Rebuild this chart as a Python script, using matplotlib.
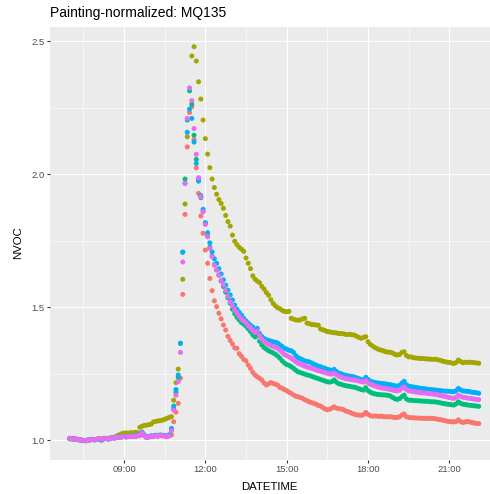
import numpy as np
import pandas as pd
import matplotlib
matplotlib.use('Agg')
import matplotlib.pyplot as plt
import matplotlib.dates as mdates

plt.rcParams['font.family'] = ['Liberation Sans', 'DejaVu Sans']

nan = np.nan

# sensor readings every 5 minutes, 07:00 -> 22:05 (one row per hour)
red = [
    1.006, 1.005, 1.004, 1.003, 1.002, 1.000, 0.998, 0.997, 0.999, 1.001, 1.002, 1.001,
    1.003, 1.004, 1.002, 1.005, 1.006, 1.004, 1.007, 1.009, 1.008, 1.011, 1.010, 1.012,
    1.013, 1.012, 1.014, 1.013, 1.015, 1.014, 1.016, 1.018, 1.024, 1.017, 1.010, 1.012,
    1.015, 1.014, 1.017, 1.015, 1.018, 1.017, 1.016, 1.014, 1.016, 1.019, 1.069, 1.105,
    1.138, 1.233, 1.548, 1.849, 2.103, 2.232, 2.254, 2.131, 2.024, 1.928, 1.843, 1.778,
    1.715, 1.665, 1.608, 1.562, 1.524, 1.502, 1.477, 1.456, 1.433, 1.414, 1.390, 1.375,
    1.362, 1.347, 1.345, 1.325, 1.315, 1.303, 1.298, 1.282, 1.270, 1.255, 1.245, 1.238,
    1.232, 1.226, 1.215, 1.207, 1.212, 1.216, 1.213, 1.210, 1.207, 1.198, 1.195, 1.190,
    1.186, 1.180, 1.176, 1.170, 1.165, 1.163, 1.160, 1.157, 1.152, 1.148, 1.144, 1.141,
    1.138, 1.135, 1.130, 1.128, 1.122, 1.117, 1.114, 1.116, 1.120, 1.125, 1.120, 1.118,
    1.117, 1.115, 1.110, 1.107, 1.104, 1.100, 1.097, 1.095, 1.094, 1.093, 1.096, 1.104,
    1.097, 1.092, 1.090, 1.091, 1.090, 1.089, 1.090, 1.088, 1.088, 1.087, 1.088, 1.086,
    1.085, 1.085, 1.088, 1.094, 1.098, 1.088, 1.085, 1.084, 1.084, 1.083, 1.083, 1.082,
    1.082, 1.081, 1.082, 1.081, 1.082, 1.081, 1.080, 1.078, 1.077, 1.075, 1.073, 1.071,
    1.070, 1.069, 1.068, 1.070, 1.076, 1.070, 1.066, 1.068, 1.070, 1.068, 1.066, 1.064,
    1.063, 1.062,
]
olive = [
    1.005, 1.005, 1.004, 1.003, 1.001, 1.000, 0.999, 0.998, 1.000, 1.001, 1.003, 1.002,
    1.003, 1.005, 1.004, 1.006, 1.007, 1.006, 1.008, 1.010, 1.012, 1.016, 1.020, 1.024,
    1.026, 1.027, 1.026, 1.028, 1.027, 1.029, 1.028, 1.048, 1.052, 1.055, 1.056, 1.058,
    1.060, 1.068, 1.070, 1.072, 1.073, 1.075, 1.078, 1.082, 1.085, 1.088, 1.150, 1.216,
    1.267, nan, 1.605, 1.888, 2.141, nan, 2.445, 2.480, 2.426, 2.348, 2.283, 2.204,
    2.134, 2.076, 2.025, 1.982, 1.950, 1.925, 1.905, 1.890, 1.872, 1.845, 1.822, 1.805,
    1.771, 1.748, 1.735, 1.725, 1.718, 1.710, 1.685, 1.665, 1.645, 1.618, 1.605, 1.598,
    1.592, 1.578, 1.568, 1.555, 1.545, 1.528, 1.514, 1.505, 1.498, 1.494, 1.488, 1.484,
    1.483, 1.484, 1.458, 1.455, 1.452, 1.451, 1.452, 1.456, 1.458, 1.440, 1.438, 1.435,
    1.434, 1.433, 1.432, 1.418, 1.415, 1.412, 1.408, 1.407, 1.405, 1.404, 1.403, 1.401,
    1.401, 1.400, 1.398, 1.397, 1.398, 1.396, 1.395, 1.390, 1.386, 1.383, 1.386, 1.389,
    1.370, 1.360, 1.354, 1.348, 1.344, 1.340, 1.338, 1.335, 1.332, 1.331, 1.330, 1.327,
    1.322, 1.320, 1.322, 1.330, 1.332, 1.318, 1.313, 1.313, 1.310, 1.309, 1.308, 1.307,
    1.307, 1.306, 1.305, 1.305, 1.304, 1.304, 1.304, 1.302, 1.300, 1.297, 1.295, 1.293,
    1.292, 1.290, 1.288, 1.292, 1.301, 1.296, 1.291, 1.293, 1.292, 1.293, 1.292, 1.291,
    1.290, 1.289,
]
green = [
    1.006, 1.004, 1.004, 1.003, 1.001, 1.000, 0.998, 0.998, 1.000, 1.001, 1.002, 1.001,
    1.003, 1.004, 1.002, 1.005, 1.006, 1.004, 1.007, 1.009, 1.008, 1.011, 1.011, 1.012,
    1.013, 1.012, 1.015, 1.013, 1.015, 1.014, 1.017, 1.019, 1.027, 1.017, 1.010, 1.012,
    1.015, 1.014, 1.017, 1.015, 1.018, 1.017, 1.016, 1.014, 1.017, 1.040, 1.120, 1.180,
    1.235, 1.364, 1.707, 1.982, 2.204, 2.314, 2.264, 2.147, 2.056, 1.980, 1.912, 1.860,
    1.815, 1.768, 1.725, 1.692, 1.660, 1.640, 1.620, 1.598, 1.578, 1.556, 1.535, 1.515,
    1.492, 1.475, 1.462, 1.452, 1.442, 1.436, 1.428, 1.418, 1.408, 1.396, 1.388, 1.392,
    1.372, 1.358, 1.348, 1.342, 1.336, 1.332, 1.328, 1.323, 1.316, 1.308, 1.298, 1.290,
    1.284, 1.281, 1.276, 1.270, 1.263, 1.257, 1.254, 1.251, 1.248, 1.245, 1.243, 1.240,
    1.237, 1.234, 1.231, 1.228, 1.225, 1.222, 1.219, 1.218, 1.220, 1.226, 1.218, 1.212,
    1.210, 1.207, 1.205, 1.203, 1.202, 1.200, 1.199, 1.196, 1.193, 1.190, 1.188, 1.197,
    1.186, 1.180, 1.176, 1.174, 1.172, 1.171, 1.170, 1.170, 1.169, 1.168, 1.165, 1.160,
    1.155, 1.153, 1.156, 1.163, 1.169, 1.155, 1.150, 1.150, 1.149, 1.148, 1.148, 1.147,
    1.147, 1.146, 1.146, 1.145, 1.144, 1.144, 1.143, 1.142, 1.140, 1.138, 1.137, 1.135,
    1.134, 1.133, 1.132, 1.136, 1.144, 1.138, 1.135, 1.134, 1.132, 1.131, 1.130, 1.129,
    1.128, 1.127,
]
blue = [
    1.006, 1.005, 1.004, 1.002, 1.001, 1.000, 0.998, 0.998, 1.000, 1.001, 1.003, 1.001,
    1.002, 1.004, 0.999, 1.004, 1.006, 1.005, 1.007, 1.008, 1.009, 1.012, 1.011, 1.013,
    1.014, 1.013, 1.015, 1.014, 1.016, 1.015, 1.018, 1.021, 1.030, 1.019, 1.011, 1.013,
    1.016, 1.015, 1.018, 1.016, 1.019, 1.018, 1.017, 1.015, 1.020, 1.044, 1.128, 1.190,
    1.245, 1.364, 1.707, 1.966, 2.158, 2.245, 2.210, 2.121, 2.041, 1.974, 1.920, 1.868,
    1.818, 1.780, 1.742, 1.708, 1.682, 1.665, 1.645, 1.625, 1.603, 1.583, 1.564, 1.546,
    1.527, 1.508, 1.492, 1.480, 1.470, 1.458, 1.448, 1.440, 1.432, 1.425, 1.414, 1.420,
    1.401, 1.390, 1.382, 1.378, 1.375, 1.372, 1.370, 1.368, 1.365, 1.358, 1.352, 1.345,
    1.342, 1.338, 1.336, 1.330, 1.318, 1.310, 1.306, 1.302, 1.298, 1.296, 1.294, 1.290,
    1.286, 1.282, 1.278, 1.276, 1.272, 1.270, 1.266, 1.264, 1.262, 1.266, 1.258, 1.252,
    1.250, 1.246, 1.244, 1.242, 1.240, 1.239, 1.237, 1.234, 1.231, 1.228, 1.226, 1.236,
    1.228, 1.222, 1.219, 1.217, 1.215, 1.214, 1.213, 1.212, 1.211, 1.209, 1.208, 1.206,
    1.204, 1.203, 1.206, 1.214, 1.221, 1.208, 1.203, 1.201, 1.200, 1.198, 1.197, 1.195,
    1.194, 1.193, 1.192, 1.190, 1.190, 1.189, 1.188, 1.187, 1.186, 1.185, 1.184, 1.184,
    1.183, 1.182, 1.182, 1.186, 1.194, 1.189, 1.185, 1.184, 1.183, 1.182, 1.180, 1.179,
    1.178, 1.176,
]
magenta = [
    1.007, 1.005, 1.004, 1.003, 1.002, 1.000, 0.999, 0.998, 0.999, 1.001, 1.002, 1.002,
    1.003, 1.004, 1.003, 1.005, 1.006, 1.004, 1.007, 1.009, 1.008, 1.011, 1.010, 1.012,
    1.013, 1.012, 1.014, 1.013, 1.015, 1.014, 1.016, 1.019, 1.026, 1.016, 1.009, 1.012,
    1.015, 1.014, 1.016, 1.015, 1.018, 1.016, 1.015, 1.013, 1.016, 1.035, 1.113, 1.169,
    1.220, 1.330, 1.670, 1.966, 2.210, 2.325, 2.277, 2.172, 2.075, 1.987, 1.915, 1.859,
    1.811, 1.765, 1.721, 1.690, 1.658, 1.640, 1.621, 1.600, 1.583, 1.562, 1.540, 1.520,
    1.505, 1.490, 1.478, 1.465, 1.455, 1.448, 1.440, 1.430, 1.422, 1.413, 1.405, 1.410,
    1.393, 1.380, 1.370, 1.365, 1.360, 1.355, 1.352, 1.349, 1.345, 1.338, 1.330, 1.322,
    1.318, 1.313, 1.308, 1.302, 1.295, 1.289, 1.286, 1.282, 1.278, 1.275, 1.272, 1.270,
    1.267, 1.264, 1.261, 1.259, 1.256, 1.254, 1.251, 1.249, 1.248, 1.252, 1.246, 1.240,
    1.237, 1.234, 1.231, 1.230, 1.228, 1.227, 1.226, 1.224, 1.222, 1.220, 1.218, 1.224,
    1.216, 1.210, 1.207, 1.204, 1.201, 1.198, 1.196, 1.195, 1.194, 1.192, 1.190, 1.188,
    1.186, 1.185, 1.188, 1.195, 1.200, 1.190, 1.185, 1.184, 1.183, 1.181, 1.180, 1.178,
    1.178, 1.177, 1.176, 1.175, 1.174, 1.173, 1.172, 1.170, 1.168, 1.166, 1.164, 1.162,
    1.160, 1.158, 1.157, 1.161, 1.169, 1.164, 1.161, 1.160, 1.158, 1.157, 1.156, 1.154,
    1.153, 1.152,
]

times = pd.date_range('2020-01-01 07:00', periods=len(red), freq='5min')
SERIES = [(red, '#F8766D'), (olive, '#A3A500'), (green, '#00BF7D'),
          (blue, '#00B0F6'), (magenta, '#E76BF3')]

major_x = pd.date_range('2020-01-01 09:00', periods=5, freq='3h')
minor_x = pd.date_range('2020-01-01 07:30', periods=6, freq='3h')
day = pd.Timestamp('2020-01-01')

fig = plt.figure(figsize=(4.9, 4.94), dpi=100)
ax = fig.add_axes([50 / 490, 34 / 494, 440 / 490, 433 / 494])
ax.set_facecolor('#EBEBEB')

for vals, col in SERIES:
    ax.scatter(times, vals, s=13, color=col, edgecolors='none', zorder=3)

ax.set_xlim(day + pd.Timedelta(hours=6.27), day + pd.Timedelta(hours=22.38))
ax.set_ylim(0.925, 2.554)
ax.set_xticks(major_x)
ax.set_xticks(minor_x, minor=True)
ax.xaxis.set_major_formatter(mdates.DateFormatter('%H:%M'))
ax.set_yticks([1.0, 1.5, 2.0, 2.5])
ax.set_yticks([1.25, 1.75, 2.25], minor=True)
ax.set_yticklabels(['1.0', '1.5', '2.0', '2.5'])

ax.grid(True, which='major', color='white', lw=0.85, zorder=0)
ax.grid(True, which='minor', color='white', lw=0.4, zorder=0)
ax.set_axisbelow(True)
for sp in ax.spines.values():
    sp.set_visible(False)
ax.tick_params(which='major', length=2.4, width=0.8, color='#333333',
               labelsize=6.8, labelcolor='#4D4D4D', pad=1.5)
ax.tick_params(which='minor', length=0)

fig.text(50 / 490, 1 - 17 / 494, 'Painting-normalized: MQ135', fontsize=10,
         color='black', va='baseline', ha='left')
fig.text(269 / 490, 1 - 489.5 / 494, 'DATETIME', fontsize=8.2, color='black',
         va='baseline', ha='center')
fig.text(18 / 490, 1 - 243 / 494, 'NVOC', fontsize=8.2, color='black',
         rotation=90, va='center', ha='center')

fig.savefig('out.png', dpi=100, facecolor='white')
